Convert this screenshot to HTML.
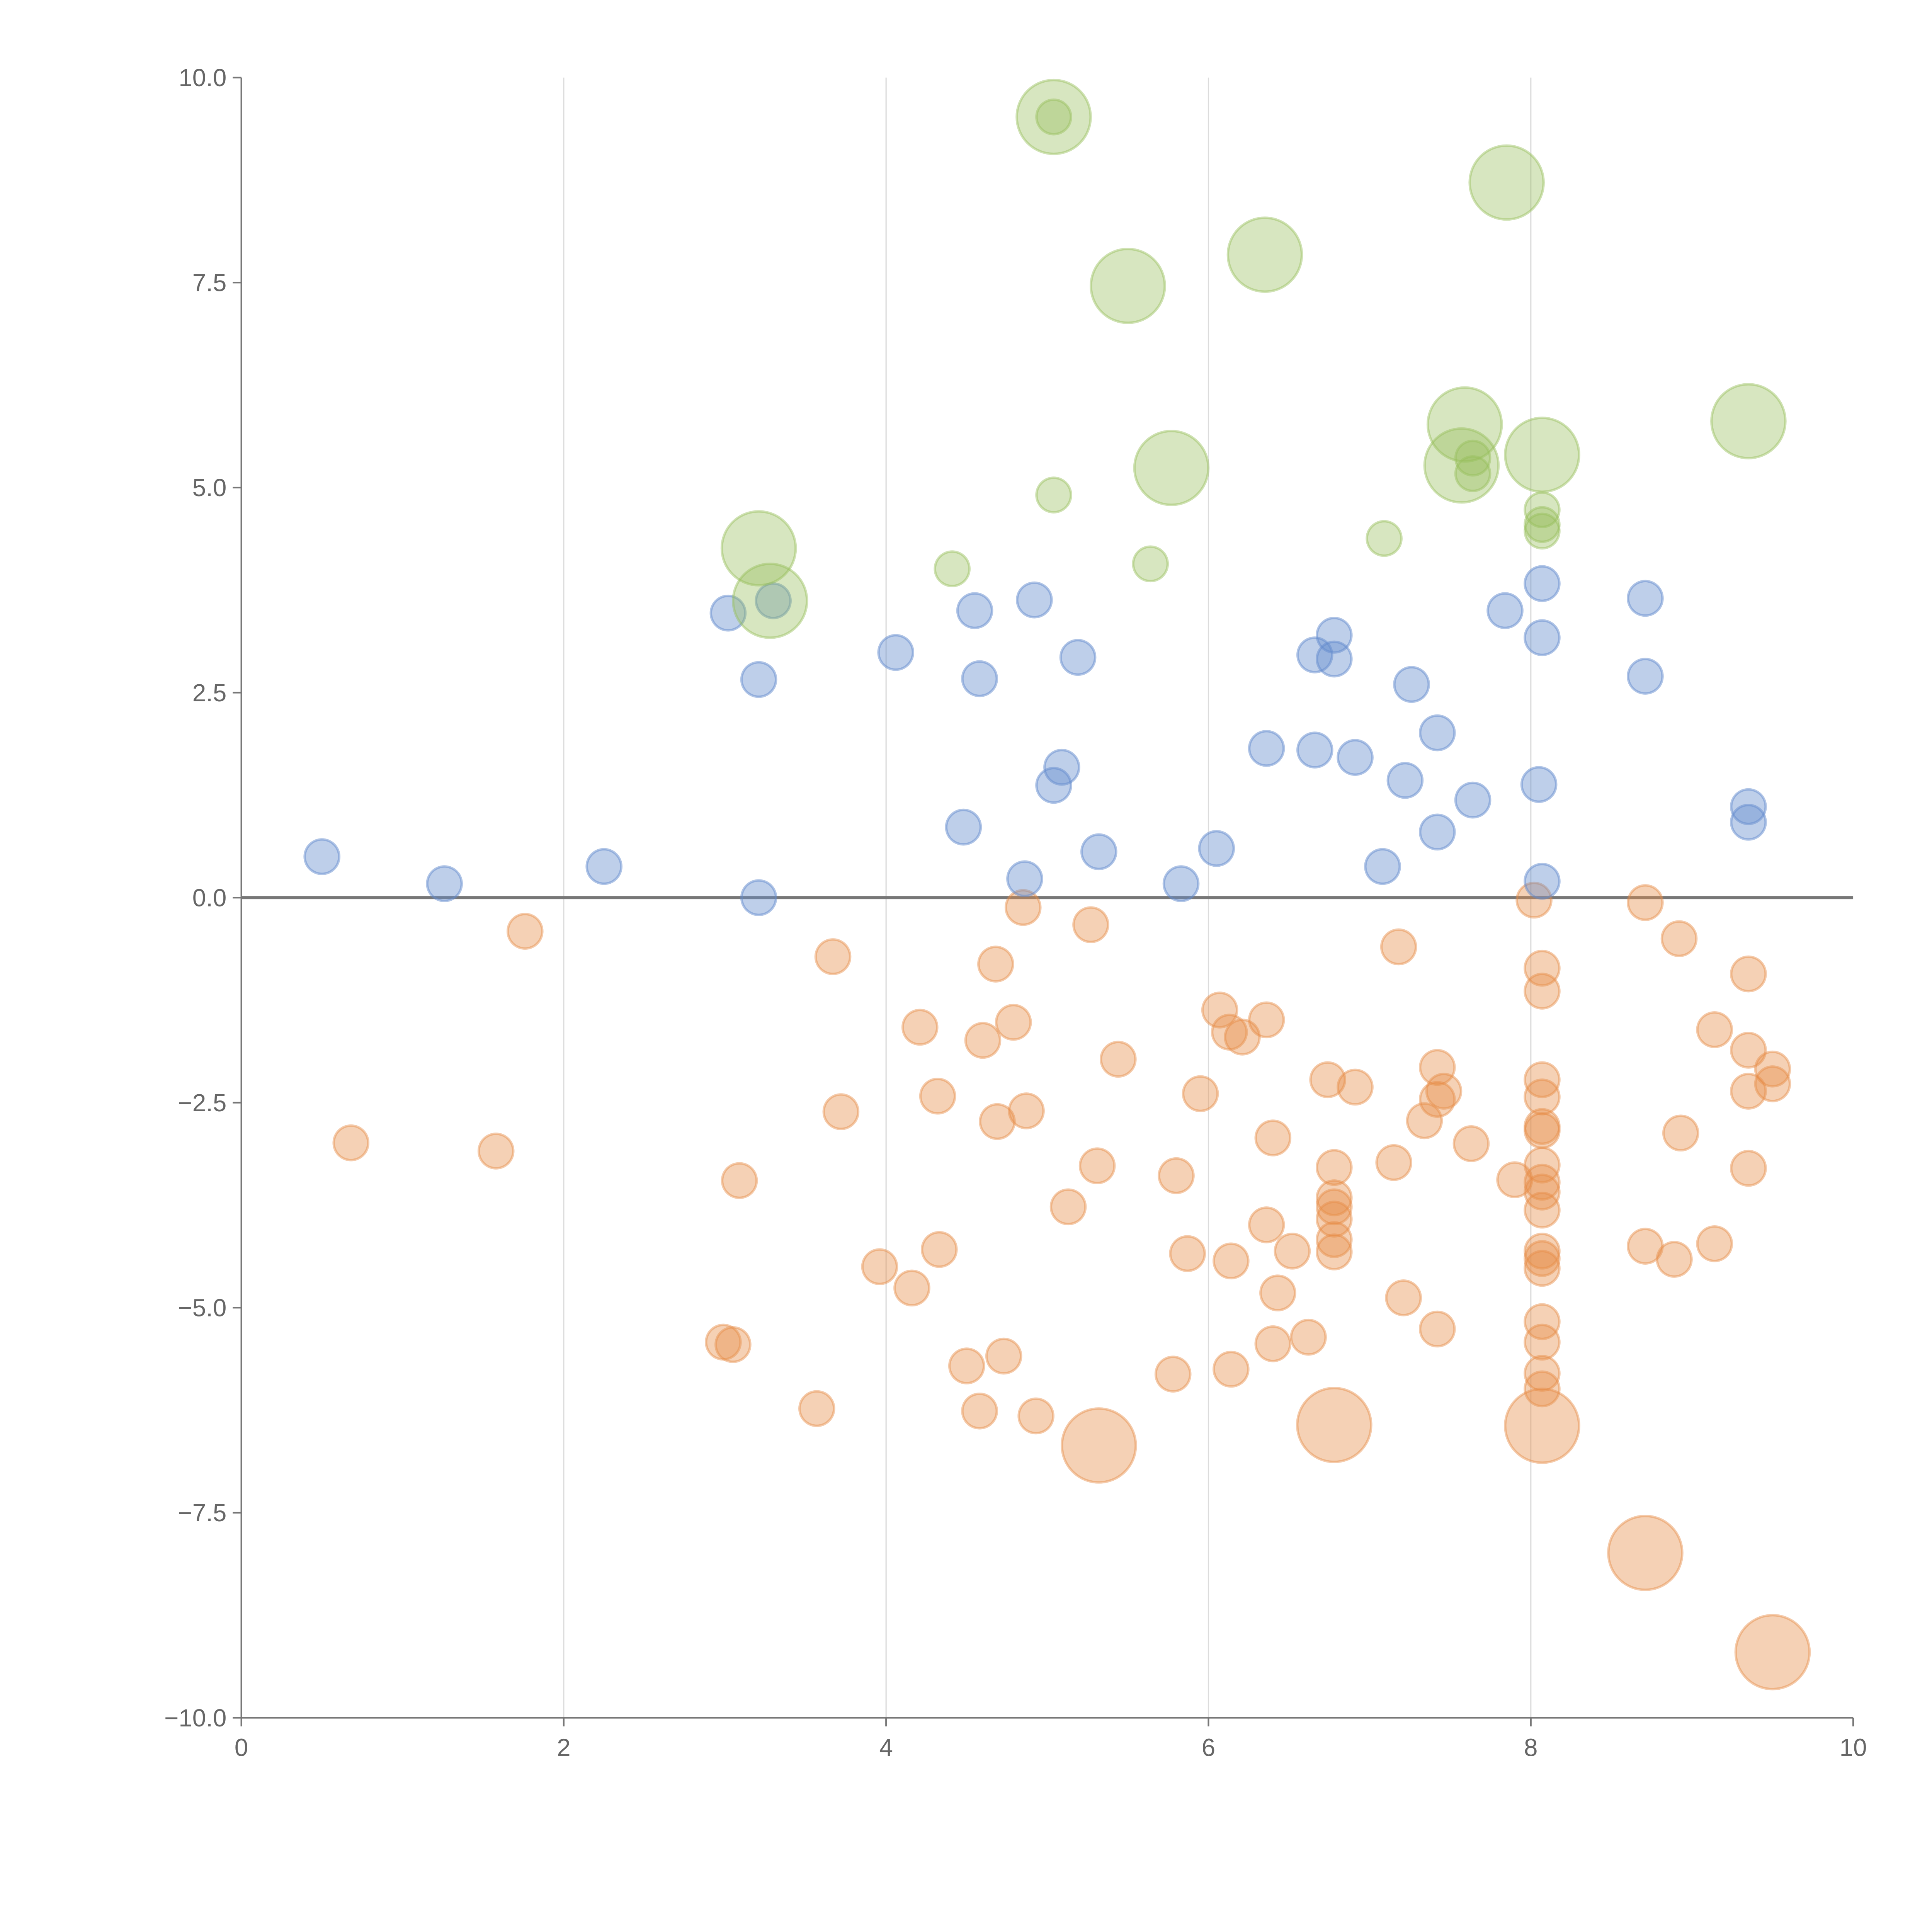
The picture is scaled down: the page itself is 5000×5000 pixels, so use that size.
<!DOCTYPE html>
<html><head><meta charset="utf-8"><style>
html,body{margin:0;padding:0;background:#fff;}
svg{display:block;}
text{font-family:"Liberation Sans",Arial,sans-serif;fill:#666;font-size:20px;}
</style></head>
<body>
<svg id="chart" width="5000" height="5000" viewBox="0 0 1569 1569" xmlns="http://www.w3.org/2000/svg">
<g id="grid"></g>
<g id="axes"></g>
<g id="marks"></g>
</svg>
<script>
const xTicks=[0,2,4,6,8,10];
const yTicks=[10,7.5,5,2.5,0,-2.5,-5,-7.5,-10];
const yTickLabels=["10.0","7.5","5.0","2.5","0.0","\u22122.5","\u22125.0","\u22127.5","\u221210.0"];
const blueX=[0.5,1.26,2.25,3.21,3.02,3.21,3.3,4.06,4.55,4.58,4.92,5.19,4.48,5.09,5.04,4.86,5.32,5.83,6.05,6.36,6.66,6.66,6.78,6.78,6.91,7.08,7.22,7.26,7.42,7.42,7.64,7.84,8.07,8.07,8.05,8.07,8.71,8.71,9.35,9.35];
const blueY=[0.5,0.17,0.38,0.0,3.47,2.66,3.62,2.99,3.5,2.67,3.63,2.93,0.86,1.59,1.37,0.23,0.56,0.17,0.6,1.82,1.8,2.96,3.2,2.91,1.71,0.38,1.43,2.6,2.01,0.8,1.19,3.5,3.83,3.17,1.38,0.2,3.65,2.7,1.11,0.92];
const greenX=[5.04,7.85,6.35,5.5,5.77,7.59,7.57,8.07,9.35,3.21,3.28,5.04,7.64,7.64,5.04,7.09,4.41,5.64,8.07,8.07,8.07];
const greenY=[9.52,8.72,7.84,7.46,5.24,5.77,5.27,5.4,5.81,4.26,3.62,9.52,5.36,5.17,4.91,4.38,4.01,4.07,4.73,4.55,4.47];
const greenS=[2,2,2,2,2,2,2,2,2,2,2,1,1,1,1,1,1,1,1,1,1];
const orangeX=[1.76,0.68,1.58,3.09,2.99,3.05,3.57,3.67,3.72,3.96,4.16,4.33,4.32,4.21,4.5,4.58,4.73,4.68,4.6,4.79,4.69,4.87,4.85,4.93,5.13,5.27,5.31,5.44,5.78,5.8,5.87,5.95,6.07,6.13,6.21,6.36,6.14,6.14,6.36,6.4,6.43,6.52,6.4,6.62,6.74,6.91,6.78,6.78,6.78,6.78,6.78,6.78,7.18,7.15,7.21,7.34,7.42,7.46,7.42,7.42,7.63,7.9,8.02,8.07,8.07,8.07,8.07,8.07,8.07,8.07,8.07,8.07,8.07,8.07,8.07,8.07,8.07,8.07,8.07,8.07,8.71,8.92,9.35,9.14,9.35,9.5,9.5,9.35,8.93,9.35,8.71,8.89,9.14,5.32,6.78,8.07,8.71,9.5];
const orangeY=[-0.41,-2.99,-3.09,-3.45,-5.42,-5.45,-6.23,-0.72,-2.61,-4.5,-4.76,-4.29,-2.42,-1.58,-5.71,-6.26,-5.59,-0.81,-1.74,-1.52,-2.73,-2.6,-0.12,-6.32,-3.77,-0.33,-3.27,-1.97,-5.81,-3.39,-4.34,-2.39,-1.37,-1.64,-1.7,-1.49,-4.43,-5.75,-3.99,-2.93,-4.82,-4.31,-5.44,-5.36,-2.22,-2.31,-3.29,-3.66,-3.77,-3.92,-4.17,-4.32,-0.6,-3.23,-4.88,-2.72,-2.07,-2.36,-2.46,-5.26,-3.0,-3.44,-0.03,-0.86,-1.14,-2.22,-2.43,-2.79,-2.84,-3.26,-3.47,-3.59,-3.81,-4.31,-4.4,-4.52,-5.17,-5.42,-5.8,-5.99,-0.06,-0.5,-0.93,-1.61,-1.86,-2.09,-2.27,-2.36,-2.87,-3.3,-4.25,-4.41,-4.22,-6.68,-6.43,-6.44,-7.99,-9.2];
const orangeS=orangeX.map((_,i)=>i>=orangeX.length-5?2:1);
const blueS=blueX.map(()=>1);

const X0=196,X1=1505,Y0=1395,Y1=63;
const sx=v=>X0+(v-0)/10*(X1-X0);
const sy=v=>Y0-(v+10)/20*(Y0-Y1);
const rad=s=>s===2?30:14;
const NS="http://www.w3.org/2000/svg";
function mk(tag,attrs,parent){const e=document.createElementNS(NS,tag);for(const k in attrs)e.setAttribute(k,attrs[k]);parent.appendChild(e);return e;}
const grid=document.getElementById('grid'),axes=document.getElementById('axes'),marks=document.getElementById('marks');

xTicks.forEach(t=>{
  if(t>0&&t<10){const l=mk('line',{x1:sx(t),x2:sx(t),y1:Y1,y2:Y0,stroke:'#dcdcdc','stroke-width':1},grid);
  
  }
  const tk=mk('line',{x1:sx(t),x2:sx(t),y1:Y0,y2:Y0+7,stroke:'#777','stroke-width':1.3},axes);
  
  
  const tx=mk('text',{x:sx(t),y:Y0+31,'text-anchor':'middle'},axes);tx.textContent=t;
  
  
});
yTicks.forEach((t,i)=>{
  const tk=mk('line',{x1:X0-7,x2:X0,y1:sy(t),y2:sy(t),stroke:'#777','stroke-width':1.3},axes);
  
  
  const tx=mk('text',{x:X0-12,y:sy(t)+7,'text-anchor':'end'},axes);tx.textContent=yTickLabels[i];
  
  
});
const ya=mk('line',{x1:X0,x2:X0,y1:Y1,y2:Y0,stroke:'#777','stroke-width':1.3},axes);


const xa=mk('line',{x1:X0,x2:X1,y1:Y0,y2:Y0,stroke:'#777','stroke-width':1.3},axes);



function series(xs,ys,ss,fill,stroke,name){
  xs.forEach((x,i)=>{
    const c=mk('circle',{cx:sx(x),cy:sy(ys[i]),r:rad(ss[i]),fill:fill,stroke:stroke,'stroke-width':2},marks);
    
    
  });
}
series(orangeX,orangeY,orangeS,'rgba(230,140,70,0.4)','rgba(230,140,70,0.45)','orange-bubble');
series(blueX,blueY,blueS,'rgba(100,140,205,0.42)','rgba(100,140,205,0.5)','blue-bubble');
series(greenX,greenY,greenS,'rgba(150,190,90,0.38)','rgba(150,190,90,0.45)','green-bubble');

const zl=mk('line',{x1:X0,x2:X1,y1:sy(0),y2:sy(0),stroke:'#777','stroke-width':2.5},axes);


</script>
</body></html>
